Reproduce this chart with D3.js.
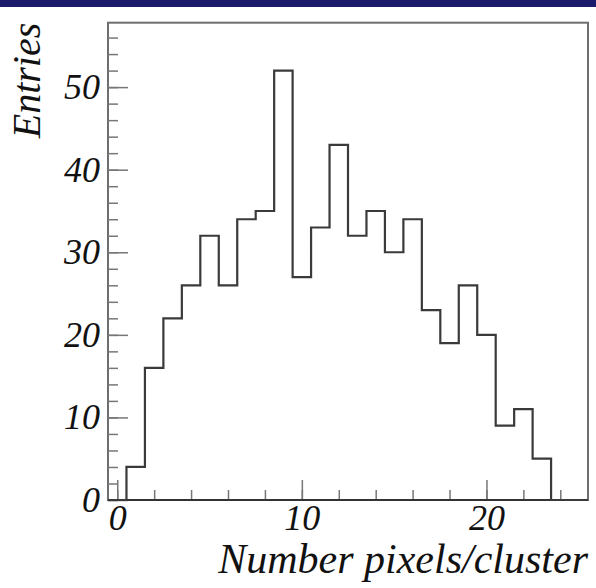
<!DOCTYPE html>
<html>
<head>
<meta charset="utf-8">
<script src="https://cdn.jsdelivr.net/npm/d3@7"></script>
<style>
  body { margin: 0; background: #fff; }
  svg text { font-family: "Liberation Serif", "DejaVu Serif", serif; font-style: italic; fill: #111; }
</style>
</head>
<body>
<div id="chart"></div>
<script>
// Pixel multiplicity per cluster, one bin per integer value
const binCenters = d3.range(0, 26);
const entries = [0, 4, 16, 22, 26, 32, 26, 34, 35, 52, 27, 33, 43, 32, 35, 30, 34, 23, 19, 26, 20, 9, 11, 5, 0, 0];
const xMajorTicks = [0, 10, 20];
const yMajorTicks = [0, 10, 20, 30, 40, 50];
const xTitle = "Number pixels/cluster";
const yTitle = "Entries";

const W = 596, H = 588;
const frame = { left: 108, right: 588, top: 22.7, bottom: 500 };

const svg = d3.select("#chart").append("svg")
    .attr("width", W)
    .attr("height", H);

// banner strip along the top edge
svg.append("rect")
    .attr("x", 0).attr("y", 0)
    .attr("width", W).attr("height", 7)
    .attr("fill", "#1c1a6b");

const x = d3.scaleLinear().domain([-0.5, 25.5]).range([frame.left, frame.right]);
const y = d3.scaleLinear().domain([0, 57.8]).range([frame.bottom, frame.top]);

// frame box
svg.append("rect")
    .attr("x", frame.left).attr("y", frame.top)
    .attr("width", frame.right - frame.left)
    .attr("height", frame.bottom - frame.top)
    .attr("fill", "none")
    .attr("stroke", "#6e6e6e")
    .attr("stroke-width", 2);

const tickColor = "#777";

// minor ticks every 2 units, major every 10, drawn inward
function styleAxis(g) {
    g.select(".domain").remove();
    g.selectAll(".tick line").attr("stroke", tickColor).attr("stroke-width", 1.5);
}

svg.append("g")
    .attr("transform", `translate(${frame.left},0)`)
    .call(d3.axisLeft(y).tickValues(d3.range(0, 58, 2)).tickSize(-10).tickFormat(""))
    .call(styleAxis);

svg.append("g")
    .attr("transform", `translate(${frame.left},0)`)
    .call(d3.axisLeft(y).tickValues(yMajorTicks).tickSize(-20).tickPadding(8).tickFormat(d3.format("d")))
    .call(styleAxis)
    .call(g => g.selectAll(".tick text")
        .attr("font-size", 36)
        .attr("font-family", null)
        .attr("fill", "#111"));

svg.append("g")
    .attr("transform", `translate(0,${frame.bottom})`)
    .call(d3.axisBottom(x).tickValues(d3.range(0, 26, 2)).tickSize(-10).tickFormat(""))
    .call(styleAxis);

svg.append("g")
    .attr("transform", `translate(0,${frame.bottom})`)
    .call(d3.axisBottom(x).tickValues(xMajorTicks).tickSize(-20).tickPadding(4).tickFormat(d3.format("d")))
    .call(styleAxis)
    .call(g => g.selectAll(".tick text")
        .attr("font-size", 36)
        .attr("font-family", null)
        .attr("fill", "#111"));

// x axis line is darker than the rest of the frame
svg.append("line")
    .attr("x1", frame.left).attr("x2", frame.right)
    .attr("y1", frame.bottom).attr("y2", frame.bottom)
    .attr("stroke", "#333")
    .attr("stroke-width", 2);

// histogram outline as a step path
const pts = [];
binCenters.forEach((c, i) => {
    pts.push([x(c - 0.5), y(entries[i])]);
    pts.push([x(c + 0.5), y(entries[i])]);
});
pts.unshift([x(-0.5), y(0)]);
pts.push([x(25.5), y(0)]);

svg.append("path")
    .attr("d", d3.line()(pts))
    .attr("fill", "none")
    .attr("stroke", "#3a3a3a")
    .attr("stroke-width", 2.2)
    .attr("stroke-linejoin", "miter");

// axis titles
svg.append("text")
    .attr("x", frame.right)
    .attr("y", 573)
    .attr("text-anchor", "end")
    .attr("font-size", 42)
    .text(xTitle);

svg.append("text")
    .attr("transform", `translate(40,${frame.top}) rotate(-90)`)
    .attr("text-anchor", "end")
    .attr("font-size", 40)
    .text(yTitle);
</script>
</body>
</html>
